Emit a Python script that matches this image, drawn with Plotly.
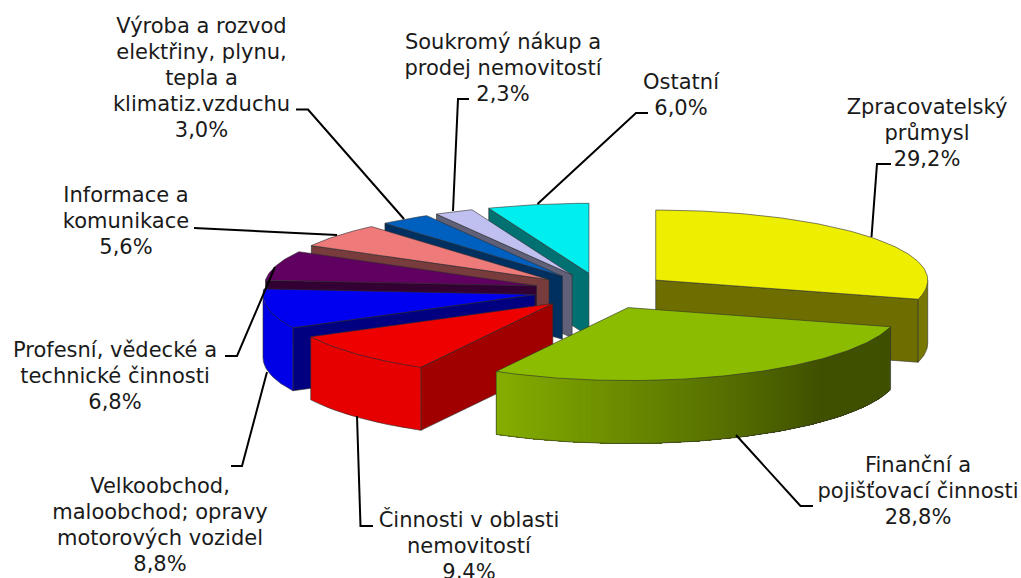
import math
import plotly.graph_objects as go

# ---- data -------------------------------------------------------------
SECTOR_LINES = [
    ["Zpracovatelský", "průmysl"],
    ["Finanční a", "pojišťovací činnosti"],
    ["Činnosti v oblasti", "nemovitostí"],
    ["Velkoobchod,", "maloobchod; opravy", "motorových vozidel"],
    ["Profesní, vědecké a", "technické činnosti"],
    ["Informace a", "komunikace"],
    ["Výroba a rozvod", "elektřiny, plynu,", "tepla a", "klimatiz.vzduchu"],
    ["Soukromý nákup a", "prodej nemovitostí"],
    ["Ostatní"],
]
VALUES = [29.2, 28.8, 9.4, 8.8, 6.8, 5.6, 3.0, 2.3, 6.0]

# ---- styles ------------------------------------------------------------
TOP_COLORS = ["#EEEE00", "#8CBC00", "#EE0000", "#0000F0", "#600060",
              "#EE7A7A", "#0060C0", "#C0C0F0", "#00EEEE"]
ARC_COLORS = ["#787800", None, "#E60000", "#0000E6", "#600060",
              "#EE7A7A", "#0060C0", "#C0C0F0", "#00EEEE"]
RADIAL_COLORS = ["#6E6E00", "#3F5000", "#A00000", "#000080", "#330033",
                 "#783C3C", "#003060", "#606078", "#007070"]
GREEN_LIGHT = (133, 174, 0)
GREEN_DARK = (63, 80, 0)
DRAW_ORDER = [8, 7, 6, 5, 4, 3, 0, 2, 1]

# ---- geometry of the tilted pie ------------------------------------------
CX, CY = 601.7, 291.0
RX, RY_BACK, RY_FRONT = 272.0, 70.0, 73.0
EXPLODE = 0.25
DEPTH = 63.0

# ---- labels (centre x, centre y of each line) and leader lines -----------
LABEL_X = [927, 918, 469, 160, 115, 126, 201.5, 503, 681]
LABEL_Y0 = [109, 467, 522, 488, 352, 197, 28, 44, 84]
LINE_STEP = 26.0
LEADERS = [
    [(891, 164), (877, 164), (871.5, 237)],
    [(813, 506), (800.5, 506), (736, 435)],
    [(373, 526), (360.5, 526), (357, 416)],
    [(231, 466), (242, 466), (267, 372)],
    [(225, 356), (237, 356), (275, 267)],
    [(194, 228), (337, 235)],
    [(296, 109.5), (308, 109.5), (404, 219)],
    [(469, 99), (458, 99), (453, 211)],
    [(648, 113), (636, 113), (537.5, 204)],
]

OUTLINE = "rgba(45,45,45,0.75)"
fig = go.Figure()


def poly(points, fill, line=None, width=0.8):
    xs = [p[0] for p in points] + [points[0][0]]
    ys = [p[1] for p in points] + [points[0][1]]
    fig.add_trace(go.Scatter(x=xs, y=ys, mode="lines", fill="toself",
                             fillcolor=fill,
                             line=dict(color=line or fill, width=width),
                             hoverinfo="skip", showlegend=False))


def stroke(points, color=OUTLINE, width=0.8):
    fig.add_trace(go.Scatter(x=[p[0] for p in points], y=[p[1] for p in points],
                             mode="lines", line=dict(color=color, width=width),
                             hoverinfo="skip", showlegend=False))


total = sum(VALUES)
edges = [0.0]
for v in VALUES:
    edges.append(edges[-1] + v / total * 360.0)


def rim(apex, deg, down=0.0):
    a = math.radians(deg)
    c = math.cos(a)
    ry = RY_BACK if c > 0 else RY_FRONT
    return (apex[0] + RX * math.sin(a), apex[1] - ry * c + down)


def green_shade(deg):
    t = min(1.0, max(0.0, (deg - 135.0) / (edges[2] - 135.0)))
    rgb = [GREEN_DARK[i] + (GREEN_LIGHT[i] - GREEN_DARK[i]) * t for i in range(3)]
    return "rgb(%d,%d,%d)" % tuple(round(x) for x in rgb)


def wall(apex, angles, fill):
    top = [rim(apex, d) for d in angles]
    bottom = [rim(apex, d, DEPTH) for d in reversed(angles)]
    poly(top + bottom, fill, fill, 0)


for i in DRAW_ORDER:
    a0, a1 = edges[i], edges[i + 1]
    mid = math.radians((a0 + a1) / 2)
    apex = (CX + EXPLODE * RX * math.sin(mid), CY - EXPLODE * 72.0 * math.cos(mid))
    steps = max(4, int(a1 - a0))
    arc = [a0 + (a1 - a0) * k / steps for k in range(steps + 1)]
    low = (apex[0], apex[1] + DEPTH)

    # flat radial faces that turn towards the viewer
    if math.cos(math.radians(a1 + 90)) < -0.01:
        p = rim(apex, a1)
        poly([apex, p, (p[0], p[1] + DEPTH), low], RADIAL_COLORS[i], OUTLINE)
    if math.cos(math.radians(a0 - 90)) < -0.01:
        p = rim(apex, a0)
        poly([apex, p, (p[0], p[1] + DEPTH), low], RADIAL_COLORS[i], OUTLINE)

    # outer curved wall (front half of the ellipse only)
    front = [d for d in arc if math.cos(math.radians(d)) <= 0]
    if a0 < 90 < a1:
        front = [90.0] + front
    if a0 < 270 < a1:
        front = front + [270.0]
    if len(front) > 1:
        if ARC_COLORS[i]:
            wall(apex, front, ARC_COLORS[i])
        else:
            # painter's gradient: each band reaches to the end of the wall
            for k in range(len(front) - 1):
                wall(apex, front[k:], green_shade((front[k] + front[k + 1]) / 2))
        stroke([rim(apex, d, DEPTH) for d in front])
        stroke([rim(apex, front[0]), rim(apex, front[0], DEPTH)])
        stroke([rim(apex, front[-1]), rim(apex, front[-1], DEPTH)])

    # top face
    poly([apex] + [rim(apex, d) for d in arc], TOP_COLORS[i], OUTLINE)

# leader lines
for pts in LEADERS:
    stroke(pts, "#000000", 2)

# labels
for i, lines in enumerate(SECTOR_LINES):
    text = lines + [f"{VALUES[i]:.1f}%".replace(".", ",")]
    fig.add_trace(go.Scatter(
        x=[LABEL_X[i]] * len(text),
        y=[LABEL_Y0[i] + k * LINE_STEP for k in range(len(text))],
        mode="text", text=text, textposition="middle center",
        textfont=dict(family="DejaVu Sans", size=21, color="#1a1a1a"),
        hoverinfo="skip", showlegend=False, cliponaxis=False))

fig.update_layout(
    width=1021, height=578, margin=dict(l=0, r=0, t=0, b=0),
    paper_bgcolor="white", plot_bgcolor="white", showlegend=False,
    xaxis=dict(range=[0, 1021], visible=False, fixedrange=True),
    yaxis=dict(range=[578, 0], visible=False, fixedrange=True),
)
fig.write_html("out.html", config={"displayModeBar": False},
               post_script="document.body.style.margin='0';document.documentElement.style.overflow='hidden';")
